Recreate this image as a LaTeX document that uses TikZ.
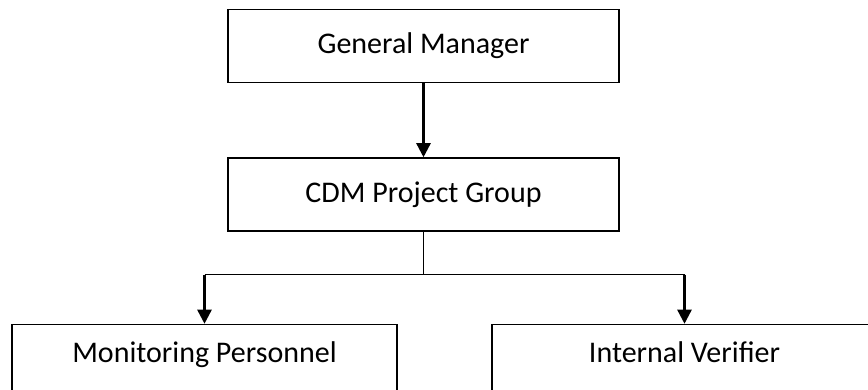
\documentclass[tikz,border=0pt]{standalone}
\usepackage{fontspec}
\setmainfont{Carlito}
\usetikzlibrary{arrows.meta,positioning}

\begin{document}
\begin{tikzpicture}[x=1pt,y=-1pt,>={Triangle[length=14pt,width=14pt]},
                    font=\fontsize{30}{36}\selectfont]

  \tikzstyle{unit}  = [draw,line width=1.5pt,rectangle,inner sep=0pt]
  \tikzstyle{upper} = [unit,minimum width=391pt,minimum height=73pt]
  \tikzstyle{lower} = [unit,minimum width=385pt,
                       text height=20pt,text depth=20pt,inner ysep=18pt]
  \tikzstyle{link}  = [line width=1.4pt]
  \tikzstyle{feed}  = [->,line width=2.4pt]

  \fill[white] (0,0) rectangle (868,390);
  \useasboundingbox (0,0) rectangle (868,390);
  \clip (0,0) rectangle (868,390);

  \node[upper] (gm)  at (423.5,46)               {General Manager};
  \node[upper] (cdm) [below=74pt of gm]          {CDM Project Group};
  \node[lower] (mp)  [below=92pt of cdm,xshift=-219pt] {Monitoring Personnel};
  \node[lower] (iv)  [below=92pt of cdm,xshift=261pt]  {Internal Verifier};

  \coordinate (split) at ([yshift=-43pt]cdm.south);
  \coordinate (mpt)   at (mp.north |- split);
  \coordinate (ivt)   at (iv.north |- split);

  \draw[feed] (gm.south) -- (cdm.north);
  \draw[link] (cdm.south) -- (split);
  \draw[link] (mpt) -- (ivt);
  \draw[feed] (mpt) -- (mp.north);
  \draw[feed] (ivt) -- (iv.north);
\end{tikzpicture}
\end{document}
